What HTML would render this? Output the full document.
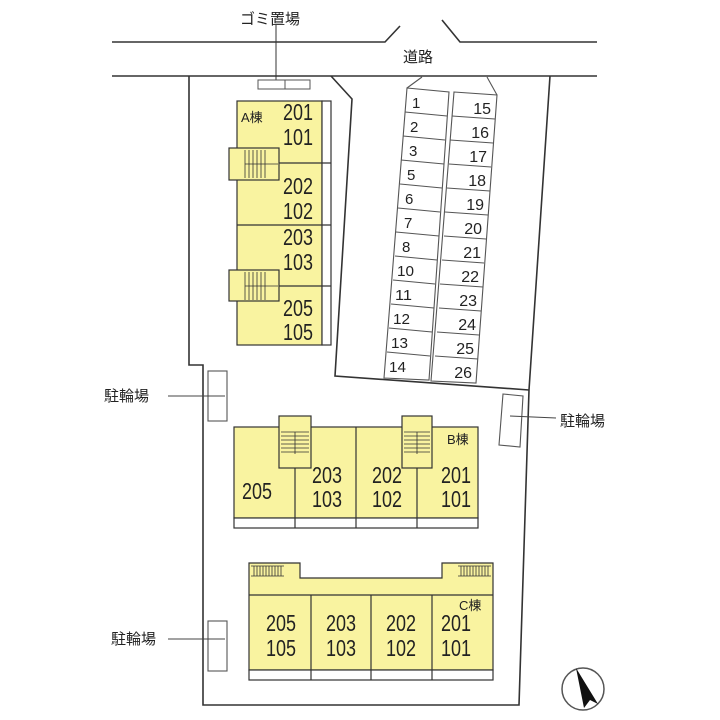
<!DOCTYPE html>
<html><head><meta charset="utf-8"><style>
html,body{margin:0;padding:0;background:#fff;width:720px;height:720px;overflow:hidden}
text{font-family:"Liberation Sans","Noto Sans CJK JP",sans-serif;fill:#222}
.n text{font-size:23px}
</style></head><body>
<svg width="720" height="720" viewBox="0 0 720 720" xmlns="http://www.w3.org/2000/svg">
<g fill="none" stroke="#333" stroke-width="1.6">
<polyline points="112,42 385,42 400,26"/>
<polyline points="442,20 460,42 597,42"/>
<line x1="112" y1="76" x2="597" y2="76"/>
<polyline points="189,76 189,365 203,365 203,705 519,705 529,390 550,76"/>
<polyline points="331,76 352,99 335,376 529,390"/>
<line x1="276" y1="25" x2="276" y2="84" stroke-width="1"/>
</g>
<rect x="258" y="80" width="52" height="9" fill="#fff" stroke="#555"/>
<line x1="285" y1="80" x2="285" y2="89" stroke="#555"/>
<text x="270" y="24" font-size="15" text-anchor="middle">ゴミ置場</text>
<text x="418" y="62" font-size="15" text-anchor="middle">道路</text>

<g fill="none" stroke="#555" stroke-width="1.1">
<polyline points="407,88 422,77"/><polyline points="487,77 497,95"/>
<polygon points="407,88 449,92 429,380 384,378"/>
<polygon points="454,92 497,95 476,383 431,381"/>
</g>
<g stroke="#555" stroke-width="1.1">
<line x1="405" y1="112" x2="447" y2="116"/><line x1="403" y1="136" x2="445" y2="140"/><line x1="401" y1="160" x2="444" y2="164"/><line x1="400" y1="184" x2="442" y2="188"/><line x1="398" y1="208" x2="440" y2="212"/><line x1="396" y1="232" x2="439" y2="236"/><line x1="395" y1="256" x2="437" y2="260"/><line x1="393" y1="280" x2="435" y2="284"/><line x1="391" y1="304" x2="434" y2="308"/><line x1="389" y1="328" x2="432" y2="332"/><line x1="387" y1="352" x2="430" y2="356"/>
<line x1="452" y1="116" x2="495" y2="119"/><line x1="450" y1="140" x2="493" y2="143"/><line x1="449" y1="164" x2="491" y2="167"/><line x1="447" y1="188" x2="490" y2="191"/><line x1="445" y1="212" x2="488" y2="215"/><line x1="444" y1="236" x2="486" y2="239"/><line x1="442" y1="260" x2="484" y2="263"/><line x1="440" y1="284" x2="483" y2="287"/><line x1="439" y1="308" x2="481" y2="311"/><line x1="437" y1="332" x2="479" y2="335"/><line x1="435" y1="356" x2="478" y2="359"/>
</g>
<g font-size="15">
<text x="412" y="108">1</text><text x="410" y="132">2</text><text x="409" y="156">3</text><text x="407" y="180">5</text><text x="405" y="204">6</text><text x="404" y="228">7</text><text x="402" y="252">8</text><text x="397" y="276" textLength="17" lengthAdjust="spacingAndGlyphs">10</text><text x="395" y="300" textLength="17" lengthAdjust="spacingAndGlyphs">11</text><text x="393" y="324" textLength="17" lengthAdjust="spacingAndGlyphs">12</text><text x="391" y="348" textLength="17" lengthAdjust="spacingAndGlyphs">13</text><text x="389" y="372" textLength="17" lengthAdjust="spacingAndGlyphs">14</text>
</g>
<g font-size="16" text-anchor="end">
<text x="491" y="114">15</text><text x="489" y="138">16</text><text x="487" y="162">17</text><text x="486" y="186">18</text><text x="484" y="210">19</text><text x="482" y="234">20</text><text x="481" y="258">21</text><text x="479" y="282">22</text><text x="477" y="306">23</text><text x="476" y="330">24</text><text x="474" y="354">25</text><text x="472" y="378">26</text>
</g>

<!-- A building -->
<rect x="237" y="101" width="85" height="244" fill="#f9f3a0" stroke="#333" stroke-width="1.2"/>
<rect x="322" y="101" width="9" height="244" fill="#fff" stroke="#333" stroke-width="1.2"/>
<g stroke="#333" stroke-width="1.2"><line x1="237" y1="163" x2="331" y2="163"/><line x1="237" y1="225" x2="331" y2="225"/><line x1="237" y1="286" x2="331" y2="286"/></g>
<g fill="#f9f3a0" stroke="#333" stroke-width="1.2">
<rect x="229" y="148" width="50" height="32"/><rect x="229" y="270" width="50" height="31"/></g>
<g stroke="#333" stroke-width="0.8">
<path d="M245,150v28M249,150v28M253,150v28M257,150v28M261,150v28M265,150v28M245,164h33"/>
<path d="M245,272v28M249,272v28M253,272v28M257,272v28M261,272v28M265,272v28M245,286h33"/></g>
<g class="n">
<text x="283" y="120" textLength="30" lengthAdjust="spacingAndGlyphs">201</text><text x="283" y="145" textLength="30" lengthAdjust="spacingAndGlyphs">101</text>
<text x="283" y="194" textLength="30" lengthAdjust="spacingAndGlyphs">202</text><text x="283" y="219" textLength="30" lengthAdjust="spacingAndGlyphs">102</text>
<text x="283" y="245" textLength="30" lengthAdjust="spacingAndGlyphs">203</text><text x="283" y="270" textLength="30" lengthAdjust="spacingAndGlyphs">103</text>
<text x="283" y="316" textLength="30" lengthAdjust="spacingAndGlyphs">205</text><text x="283" y="340" textLength="30" lengthAdjust="spacingAndGlyphs">105</text></g>
<text x="241" y="122" font-size="13">A棟</text>

<!-- B building -->
<rect x="234" y="427" width="244" height="91" fill="#f9f3a0" stroke="#333" stroke-width="1.2"/>
<rect x="234" y="518" width="244" height="10" fill="#fff" stroke="#333" stroke-width="1.2"/>
<g stroke="#333" stroke-width="1.2"><line x1="295" y1="427" x2="295" y2="528"/><line x1="356" y1="427" x2="356" y2="528"/><line x1="417" y1="427" x2="417" y2="528"/></g>
<g fill="#f9f3a0" stroke="#333" stroke-width="1.2"><rect x="279" y="416" width="32" height="52"/><rect x="402" y="416" width="30" height="52"/></g>
<g stroke="#333" stroke-width="0.8">
<path d="M281,432h28M281,436h28M281,440h28M281,444h28M281,448h28M281,452h28M295,432v22"/>
<path d="M404,432h26M404,436h26M404,440h26M404,444h26M404,448h26M404,452h26M417,432v22"/></g>
<g class="n">
<text x="242" y="499" textLength="30" lengthAdjust="spacingAndGlyphs">205</text>
<text x="312" y="483" textLength="30" lengthAdjust="spacingAndGlyphs">203</text><text x="312" y="507" textLength="30" lengthAdjust="spacingAndGlyphs">103</text>
<text x="372" y="483" textLength="30" lengthAdjust="spacingAndGlyphs">202</text><text x="372" y="507" textLength="30" lengthAdjust="spacingAndGlyphs">102</text>
<text x="441" y="483" textLength="30" lengthAdjust="spacingAndGlyphs">201</text><text x="441" y="507" textLength="30" lengthAdjust="spacingAndGlyphs">101</text></g>
<text x="447" y="444" font-size="13">B棟</text>

<!-- C building -->
<polygon points="249,563 300,563 300,578 442,578 442,563 493,563 493,670 249,670" fill="#f9f3a0" stroke="#333" stroke-width="1.2"/>
<line x1="249" y1="595" x2="493" y2="595" stroke="#333" stroke-width="1.2"/>
<rect x="249" y="670" width="244" height="10" fill="#fff" stroke="#333" stroke-width="1.2"/>
<g stroke="#333" stroke-width="1.2"><line x1="311" y1="595" x2="311" y2="680"/><line x1="371" y1="595" x2="371" y2="680"/><line x1="432" y1="595" x2="432" y2="680"/></g>
<g stroke="#333" stroke-width="0.8">
<path d="M251,566h33M251,576h33M254,566v10M257,566v10M260,566v10M263,566v10M266,566v10M269,566v10M272,566v10M275,566v10M278,566v10M281,566v10"/>
<path d="M458,566h33M458,576h33M461,566v10M464,566v10M467,566v10M470,566v10M473,566v10M476,566v10M479,566v10M482,566v10M485,566v10M488,566v10"/></g>
<g class="n">
<text x="266" y="631" textLength="30" lengthAdjust="spacingAndGlyphs">205</text><text x="266" y="656" textLength="30" lengthAdjust="spacingAndGlyphs">105</text>
<text x="326" y="631" textLength="30" lengthAdjust="spacingAndGlyphs">203</text><text x="326" y="656" textLength="30" lengthAdjust="spacingAndGlyphs">103</text>
<text x="386" y="631" textLength="30" lengthAdjust="spacingAndGlyphs">202</text><text x="386" y="656" textLength="30" lengthAdjust="spacingAndGlyphs">102</text>
<text x="441" y="631" textLength="30" lengthAdjust="spacingAndGlyphs">201</text><text x="441" y="656" textLength="30" lengthAdjust="spacingAndGlyphs">101</text></g>
<text x="459" y="610" font-size="13">C棟</text>

<g fill="#fff" stroke="#555" stroke-width="1.1">
<rect x="208" y="371" width="19" height="50"/>
<rect x="208" y="621" width="19" height="50"/>
<polygon points="503,394 523,396 520,447 499,445"/></g>
<g stroke="#444" stroke-width="1"><line x1="168" y1="396" x2="225" y2="396"/><line x1="168" y1="639" x2="225" y2="639"/><line x1="510" y1="416" x2="556" y2="418"/></g>
<g font-size="15"><text x="104" y="401">駐輪場</text><text x="111" y="644">駐輪場</text><text x="560" y="426">駐輪場</text></g>

<circle cx="583" cy="689" r="21" fill="#fff" stroke="#555" stroke-width="1.5"/>
<polygon points="576,668 598,704 590,700 584,708" fill="#111"/>
</svg>
</body></html>
